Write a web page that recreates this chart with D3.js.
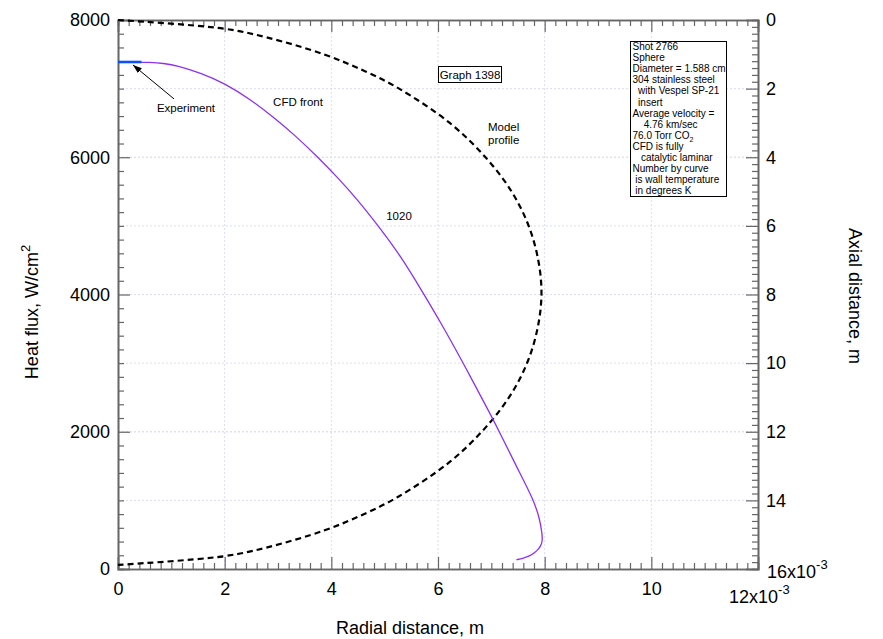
<!DOCTYPE html>
<html>
<head>
<meta charset="utf-8">
<script src="https://cdn.jsdelivr.net/npm/d3@7"></script>
<style>
  html, body { margin: 0; padding: 0; background: #fff; }
  svg { display: block; font-family: "Liberation Sans", Arial, sans-serif; }
</style>
</head>
<body>
<svg id="chart" width="883" height="639"></svg>
<script>
// ---- data (radial / axial distance in units of 1e-3 m) ----
const cfdRadial = [0, 0.3, 0.59, 0.85, 1.125, 1.56, 2.0, 2.5, 2.94, 3.31, 3.75, 4.13, 4.5, 4.88, 5.3, 5.71, 6.04, 6.475, 7.03, 7.15, 7.47, 7.8, 7.91, 7.95, 7.96, 7.93, 7.88, 7.8, 7.73, 7.6, 7.47];
const cfdFlux   = [7388, 7388, 7384, 7370, 7334, 7224, 7078, 6835, 6568, 6325, 6000, 5694, 5374, 5000, 4563, 4038, 3606, 3000, 2185, 2000, 1494, 1000, 718, 520, 420, 340, 285, 232, 194, 155, 135];
const expRadial = [0, 0.44];
const expFlux   = [7388, 7388];
const modelAxial  = [0, 0.25, 0.5, 1, 1.5, 2, 3, 4, 5, 6, 7, 7.94, 8.88, 9.88, 10.88, 11.88, 12.88, 13.88, 14.38, 14.88, 15.38, 15.63, 15.88];
const modelRadial = [0, 1.975, 2.77, 3.86, 4.64, 5.27, 6.22, 6.89, 7.38, 7.70, 7.88, 7.94, 7.88, 7.70, 7.38, 6.89, 6.22, 5.27, 4.64, 3.86, 2.77, 1.975, 0];
const xTicks = [0, 2, 4, 6, 8, 10, 12];
const yTicks = [0, 2000, 4000, 6000, 8000];
const yRTicks = [0, 2, 4, 6, 8, 10, 12, 14, 16];
const legendLines = ["Shot 2766", "Sphere", "Diameter = 1.588 cm", "304 stainless steel", "  with Vespel SP-21", "  insert", "Average velocity =", "    4.76 km/sec", "76.0 Torr CO|2", "CFD is fully", "   catalytic laminar", "Number by curve", " is wall temperature", " in degrees K"];

const svg = d3.select("#chart");
const L = 118, R = 758, T = 20, B = 569;
const x = d3.scaleLinear().domain([0, 12]).range([L, R]);
const y = d3.scaleLinear().domain([0, 8000]).range([B, T]);
const yR = d3.scaleLinear().domain([0, 16]).range([T, B]);

const gridColor = "#dcdcf6";
// grid lines
const grid = svg.append("g").attr("stroke", gridColor).attr("stroke-width", 1).attr("stroke-dasharray", "2,2");
xTicks.filter(v => v > 0 && v < 12).forEach(v => grid.append("line").attr("x1", x(v)).attr("x2", x(v)).attr("y1", T).attr("y2", B));
yTicks.filter(v => v > 0 && v < 8000).forEach(v => grid.append("line").attr("x1", L).attr("x2", R).attr("y1", y(v)).attr("y2", y(v)));
yRTicks.filter(v => v > 0 && v < 16).forEach(v => grid.append("line").attr("x1", L).attr("x2", R).attr("y1", yR(v)).attr("y2", yR(v)));

const minor = (lo, hi, step, major) => d3.range(lo, hi + step / 2, step).filter(v => Math.abs(v / major - Math.round(v / major)) > 1e-6);
const xMinor = minor(0, 12, 0.2, 2);
const yMinor = minor(0, 8000, 200, 2000);
const yRMinor = minor(0, 16, 0.2, 2);

const axisColor = "#666";
function styleAxis(g) {
  g.selectAll(".domain").attr("stroke", axisColor).attr("stroke-width", 1.6);
  g.selectAll(".tick line").attr("stroke", axisColor).attr("stroke-width", 1.2);
  g.selectAll(".tick text").attr("fill", "#000").attr("font-size", 18);
  g.attr("font-family", null);
}
// bottom
svg.append("g").attr("transform", `translate(0,${B})`)
  .call(d3.axisBottom(x).tickValues(xMinor).tickSize(-6).tickFormat("")).call(styleAxis);
svg.append("g").attr("transform", `translate(0,${B})`)
  .call(d3.axisBottom(x).tickValues(xTicks).tickSize(-12).tickPadding(13).tickFormat(d => d === 12 ? "" : d)).call(styleAxis);
// top
svg.append("g").attr("transform", `translate(0,${T})`)
  .call(d3.axisTop(x).tickValues(xMinor).tickSize(-6).tickFormat("")).call(styleAxis);
svg.append("g").attr("transform", `translate(0,${T})`)
  .call(d3.axisTop(x).tickValues(xTicks).tickSize(-12).tickFormat("")).call(styleAxis);
// left
svg.append("g").attr("transform", `translate(${L},0)`)
  .call(d3.axisLeft(y).tickValues(yMinor).tickSize(-6).tickFormat("")).call(styleAxis);
svg.append("g").attr("transform", `translate(${L},0)`)
  .call(d3.axisLeft(y).tickValues(yTicks).tickSize(-12).tickPadding(8).tickFormat(d => d)).call(styleAxis);
// right
svg.append("g").attr("transform", `translate(${R},0)`)
  .call(d3.axisRight(yR).tickValues(yRMinor).tickSize(-6).tickFormat("")).call(styleAxis);
svg.append("g").attr("transform", `translate(${R},0)`)
  .call(d3.axisRight(yR).tickValues(yRTicks).tickSize(-12).tickPadding(8).tickFormat(d => d === 16 ? "" : d)).call(styleAxis);

// exponent labels
const e1 = svg.append("text").attr("x", x(12) - 29).attr("y", 603).attr("font-size", 18);
e1.append("tspan").text("12x10");
e1.append("tspan").attr("dy", -9).attr("font-size", 13).text("-3");
const e2 = svg.append("text").attr("x", R + 9).attr("y", yR(16) + 9).attr("font-size", 18);
e2.append("tspan").text("16x10");
e2.append("tspan").attr("dy", -9).attr("font-size", 13).text("-3");

// axis titles
svg.append("text").attr("x", 410).attr("y", 634).attr("text-anchor", "middle").attr("font-size", 18).text("Radial distance, m");
const lt = svg.append("text").attr("transform", "translate(38,312) rotate(-90)").attr("text-anchor", "middle").attr("font-size", 18);
lt.append("tspan").text("Heat flux, W/cm");
lt.append("tspan").attr("dy", -8).attr("font-size", 13).text("2");
svg.append("text").attr("transform", "translate(849,296) rotate(90)").attr("text-anchor", "middle").attr("font-size", 18).text("Axial distance, m");

// model profile (dashed)
const modelPts = modelAxial.map((a, i) => [modelRadial[i], a]);
svg.append("path").datum(modelPts)
  .attr("d", d3.line().x(d => x(d[0])).y(d => yR(d[1])).curve(d3.curveCatmullRom))
  .attr("fill", "none").attr("stroke", "#000").attr("stroke-width", 2.2).attr("stroke-dasharray", "6,4");

// CFD front
const cfdPts = cfdRadial.map((r, i) => [r, cfdFlux[i]]);
svg.append("path").datum(cfdPts)
  .attr("d", d3.line().x(d => x(d[0])).y(d => y(d[1])).curve(d3.curveBasis))
  .attr("fill", "none").attr("stroke", "#9030f0").attr("stroke-width", 1.3);

// experiment
const expPts = expRadial.map((r, i) => [r, expFlux[i]]);
svg.append("path").datum(expPts)
  .attr("d", d3.line().x(d => x(d[0])).y(d => y(d[1])))
  .attr("fill", "none").attr("stroke", "#0a50ff").attr("stroke-width", 2.6);

// arrow
svg.append("defs").append("marker").attr("id", "ah").attr("viewBox", "0 0 10 10")
  .attr("refX", 10).attr("refY", 5).attr("markerWidth", 9).attr("markerHeight", 9).attr("orient", "auto")
  .attr("markerUnits", "userSpaceOnUse")
  .append("path").attr("d", "M0,1.5 L10,5 L0,8.5 Z").attr("fill", "#000");
svg.append("line").attr("x1", x(1.05)).attr("y1", y(6850)).attr("x2", x(0.28)).attr("y2", y(7345))
  .attr("stroke", "#000").attr("stroke-width", 1).attr("marker-end", "url(#ah)");

// annotations
svg.append("text").attr("x", 186).attr("y", 112).attr("text-anchor", "middle").attr("font-size", 11.5).text("Experiment");
svg.append("text").attr("x", 298).attr("y", 106).attr("text-anchor", "middle").attr("font-size", 11.5).text("CFD front");
svg.append("text").attr("x", 399).attr("y", 220).attr("text-anchor", "middle").attr("font-size", 11.5).text("1020");
svg.append("text").attr("x", 488).attr("y", 131).attr("font-size", 11.5).text("Model");
svg.append("text").attr("x", 488).attr("y", 144).attr("font-size", 11.5).text("profile");

// Graph label box
svg.append("rect").attr("x", 438.5).attr("y", 66.5).attr("width", 63).attr("height", 16)
  .attr("fill", "#fff").attr("stroke", "#000").attr("stroke-width", 1);
svg.append("text").attr("x", 470).attr("y", 78.5).attr("text-anchor", "middle").attr("font-size", 11.5).text("Graph 1398");

// legend box
svg.append("rect").attr("x", 630.5).attr("y", 41.5).attr("width", 96).attr("height", 155)
  .attr("fill", "#fff").attr("stroke", "#000").attr("stroke-width", 1);
const lg = svg.append("g").attr("font-size", 10);
legendLines.forEach((s, i) => {
  const lead = s.length - s.trimStart().length;
  const t = lg.append("text").attr("x", 632.5 + lead * 2.8).attr("y", 50 + i * 11.1);
  const parts = s.trimStart().split("|");
  t.append("tspan").text(parts[0]);
  if (parts[1]) t.append("tspan").attr("dy", 3).attr("font-size", 7).text(parts[1]);
});
</script>
</body>
</html>
